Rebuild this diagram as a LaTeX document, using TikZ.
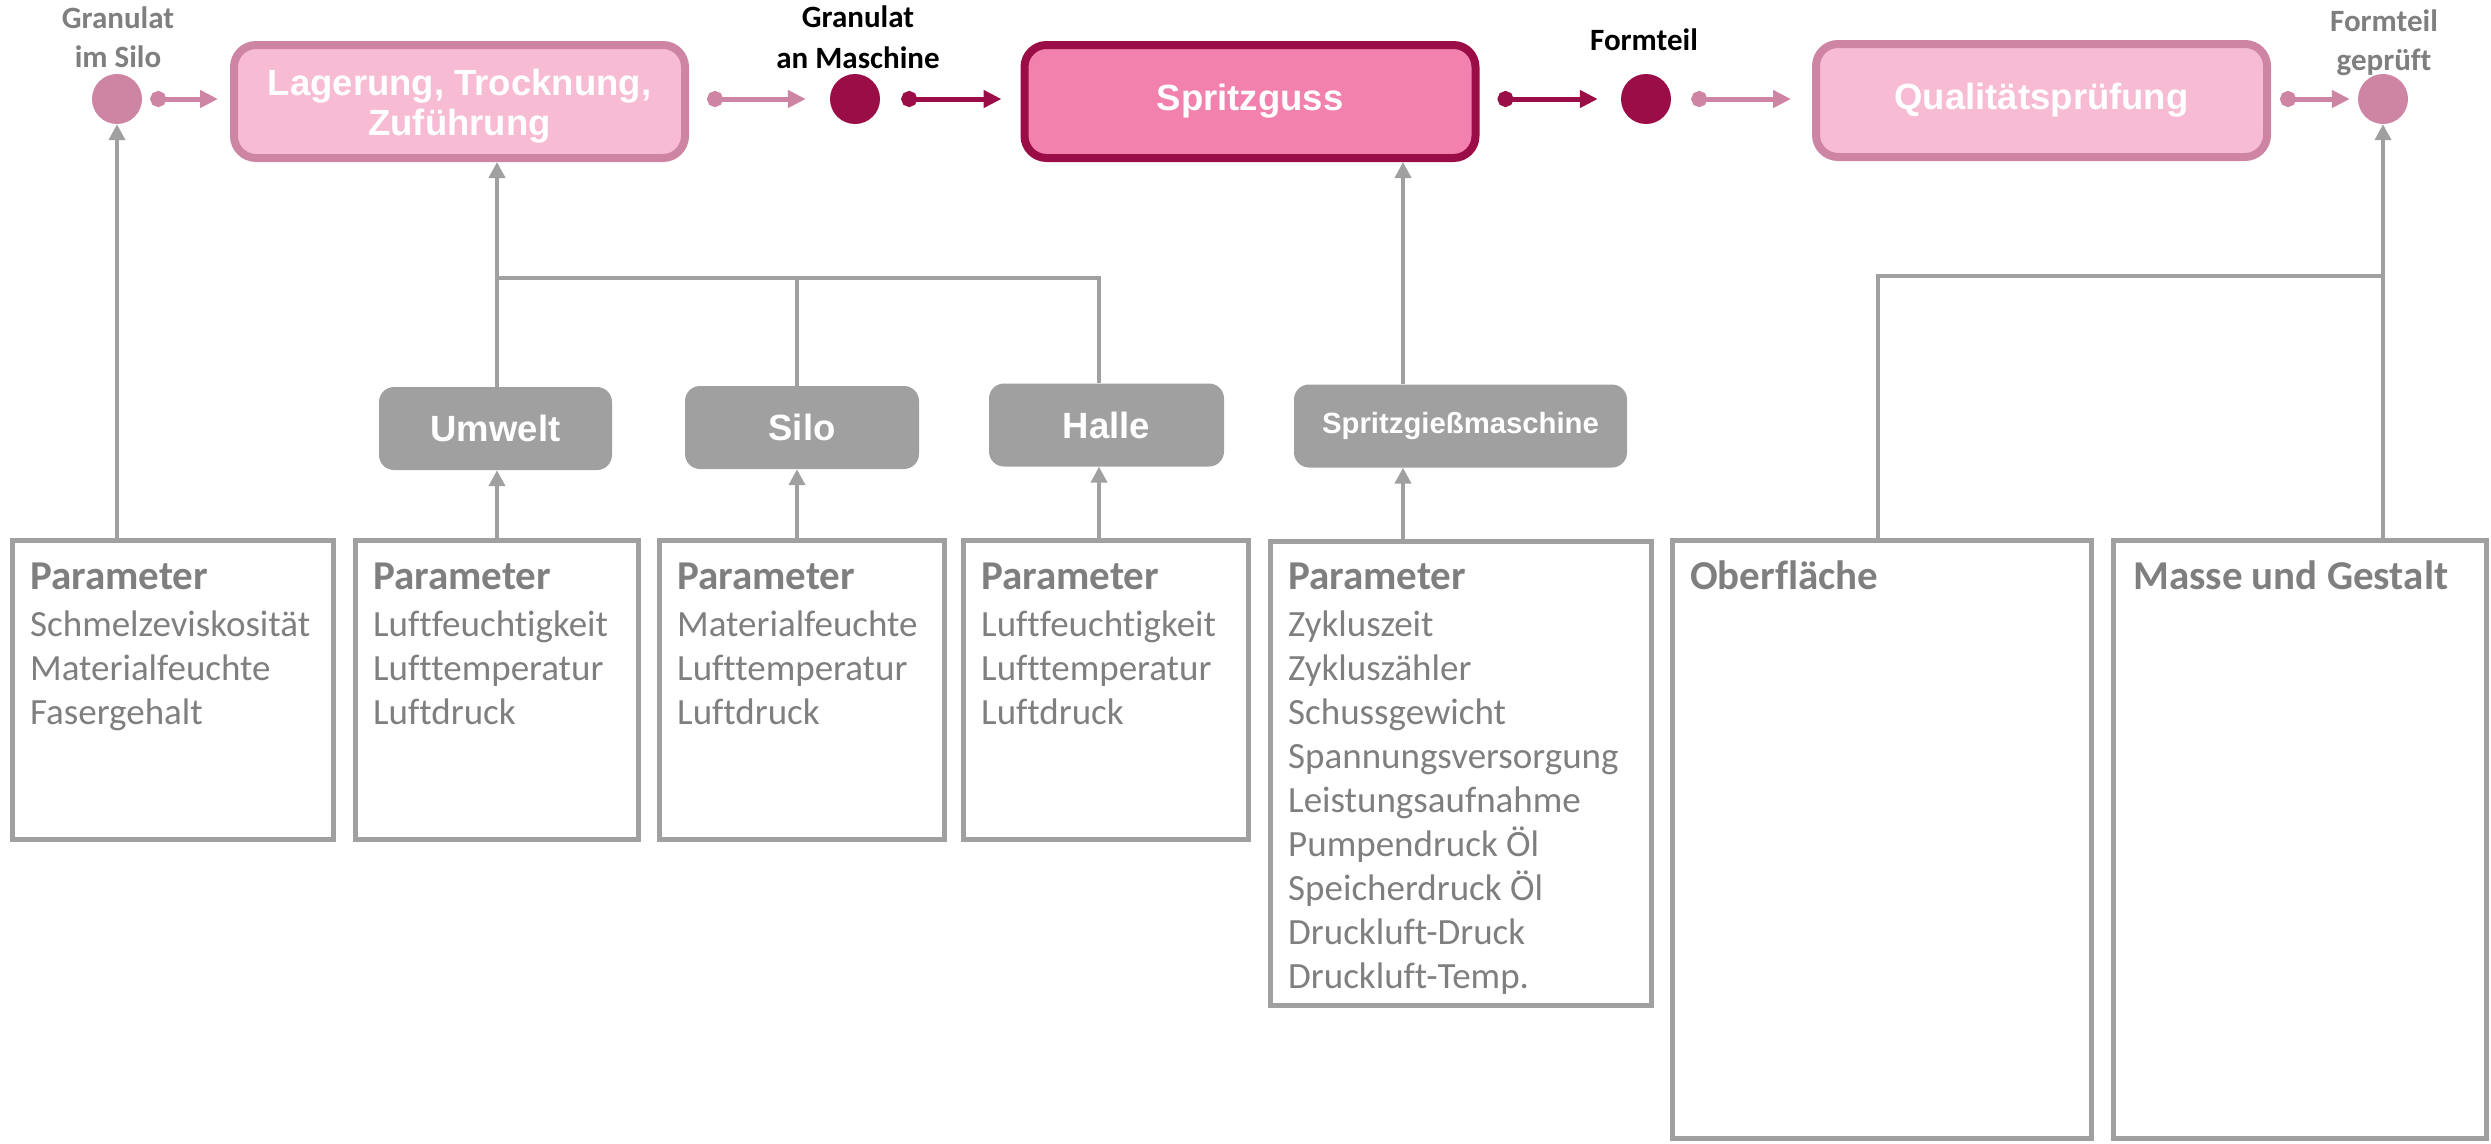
\documentclass[tikz,border=0pt]{standalone}
\usepackage{fontspec}
\setmainfont{Carlito}[Ligatures=CommonOff]
\newfontfamily\arialfont{Liberation Sans}
\usetikzlibrary{arrows.meta}
\definecolor{lpink}{HTML}{F7BBD4}
\definecolor{mpink}{HTML}{CE84A3}
\definecolor{hpink}{HTML}{F381AE}
\definecolor{dred}{HTML}{9B0D46}
\definecolor{lgray}{HTML}{A0A0A0}
\definecolor{tgray}{HTML}{7F7F7F}
\tikzset{
  procbox/.style={draw=mpink, fill=lpink, line width=8pt, rounded corners=22pt,
    minimum width=451pt, minimum height=113pt, inner sep=0pt, text=white,
    font=\arialfont\bfseries\fontsize{36.5}{40}\selectfont, align=center},
  mainbox/.style={procbox, draw=dred, fill=hpink},
  graybox/.style={fill=lgray, rounded corners=15pt, minimum height=83pt, inner sep=0pt,
    text=white, font=\arialfont\bfseries\fontsize{36.5}{40}\selectfont},
  parbox/.style={draw=lgray, line width=5pt, inner sep=0pt},
  ptext/.style={anchor=north west, inner sep=0pt, align=left, text=tgray,
    font=\fontsize{37}{44}\selectfont},
  stnode/.style={circle, fill=#1, minimum size=50pt, inner sep=0pt},
  toplab/.style={inner sep=0pt, align=center, font=\bfseries\fontsize{31}{39}\selectfont},
  gline/.style={draw=lgray, line width=4pt},
  garrow/.style={gline, -{Triangle[length=16pt,width=16pt]}},
  parrow/.style={color=#1, line width=5pt, {Circle[length=16pt]}-{Triangle[length=18pt,width=17pt]}},
}
\newcommand{\hdr}[1]{\rule{0pt}{30pt}{\fontsize{41}{44}\selectfont\bfseries #1}}
\begin{document}
\begin{tikzpicture}[x=1pt,y=-1pt]
\useasboundingbox (0,0) rectangle (2491,1143);
% process boxes
\node[procbox] (lag) at (459.5,101.5) {\rule{0pt}{36pt}Lagerung, Trocknung,\\Zuführung};
\node[mainbox] (spr) at (1250,101.5) {Spritzguss};
\node[procbox] (qual) at (2041.5,100.5) {Qualitätsprüfung};
% states
\node[stnode=mpink] (c1) at (117,99) {};
\node[stnode=dred] (c2) at (855,99) {};
\node[stnode=dred] (c3) at (1646,99) {};
\node[stnode=mpink] (c4) at (2383,99) {};
% state labels
\node[toplab, text=tgray, anchor=north] (l1) at (118,4) {\rule{0pt}{24pt}Granulat\\im Silo};
\node[toplab, text=black, anchor=north, font=\bfseries\fontsize{31}{41}\selectfont] (l2) at (858,3) {\rule{0pt}{24pt}Granulat\\an Maschine};
\node[toplab, text=black, anchor=base] (l3) at (1644,50) {Formteil};
\node[toplab, text=tgray, anchor=north] (l4) at (2384,7) {\rule{0pt}{24pt}Formteil\\geprüft};
% gray boxes
\node[graybox, minimum width=233pt] (umw) at (495.5,428.5) {Umwelt};
\node[graybox, minimum width=234pt] (silo) at (802,427.5) {Silo};
\node[graybox, minimum width=235pt] (halle) at (1106.5,425) {Halle};
\node[graybox, minimum width=333pt, font=\arialfont\bfseries\fontsize{29.3}{32}\selectfont] (sgm) at (1460.5,426) {Spritzgießmaschine};
% parameter boxes
\node[parbox, minimum width=321pt, minimum height=299pt] (p1) at (173,690) {};
\node[parbox, minimum width=283pt, minimum height=299pt] (p2) at (497,690) {};
\node[parbox, minimum width=285pt, minimum height=299pt] (p3) at (802,690) {};
\node[parbox, minimum width=285pt, minimum height=299pt] (p4) at (1106,690) {};
\node[parbox, minimum width=381pt, minimum height=464pt] (p5) at (1461,773.5) {};
\node[parbox, minimum width=419pt, minimum height=598pt] (p6) at (1882,839.5) {};
\node[parbox, minimum width=373pt, minimum height=598pt] (p7) at (2300,839.5) {};
% parameter texts
\node[ptext] (t1) at ([xshift=20pt,yshift=-21pt]p1.north west) {\hdr{Parameter}\\[3pt]Schmelzeviskosität\\Materialfeuchte\\Fasergehalt};
\node[ptext] (t2) at ([xshift=20pt,yshift=-21pt]p2.north west) {\hdr{Parameter}\\[3pt]Luftfeuchtigkeit\\Lufttemperatur\\Luftdruck};
\node[ptext] (t3) at ([xshift=20pt,yshift=-21pt]p3.north west) {\hdr{Parameter}\\[3pt]Materialfeuchte\\Lufttemperatur\\Luftdruck};
\node[ptext] (t4) at ([xshift=20pt,yshift=-21pt]p4.north west) {\hdr{Parameter}\\[3pt]Luftfeuchtigkeit\\Lufttemperatur\\Luftdruck};
\node[ptext] (t5) at ([xshift=20pt,yshift=-20pt]p5.north west) {\hdr{Parameter}\\[3pt]Zykluszeit\\Zykluszähler\\Schussgewicht\\Spannungsversorgung\\Leistungsaufnahme\\Pumpendruck Öl\\Speicherdruck Öl\\Druckluft-Druck\\Druckluft-Temp.};
\node[ptext] (t6) at ([xshift=20pt,yshift=-21pt]p6.north west) {\hdr{Oberfläche}};
\node[ptext] (t7) at ([xshift=22pt,yshift=-21pt]p7.north west) {\hdr{Masse und Gestalt}};
% helper coordinates
\coordinate (xu) at (497,0);
\coordinate (xs) at (797,0);
\coordinate (xh) at (1099,0);
\coordinate (xm) at (1403,0);
\coordinate (jl) at (497,278);
\coordinate (jr) at (1099,278);
\coordinate (oj) at (1878,276);
% gray connectors
\draw[garrow] (p1.north -| c1) -- (c1.south);
\draw[garrow] (p2.north -| xu) -- (umw.south -| xu);
\draw[garrow] (p3.north -| xs) -- (silo.south -| xs);
\draw[garrow] (p4.north -| xh) -- (halle.south -| xh);
\draw[garrow] (p5.north -| xm) -- (sgm.south -| xm);
\draw[garrow] (umw.north -| xu) -- (lag.south -| xu);
\draw[gline] (jl) -- (jr) -- (halle.north -| xh);
\draw[gline] (jl -| xs) -- (silo.north -| xs);
\draw[garrow] (sgm.north -| xm) -- (spr.south -| xm);
\draw[gline] (p6.north -| oj) -- (oj) -- (oj -| c4);
\draw[garrow] (p7.north -| c4) -- (c4.south);
% process flow arrows
\draw[parrow=mpink, shorten <=8pt, shorten >=12pt] (c1.east) -- (c1.east -| lag.west);
\draw[parrow=mpink, shorten <=18pt, shorten >=24pt] (c2.west -| lag.east) -- (c2.west);
\draw[parrow=dred, shorten <=21pt, shorten >=19pt] (c2.east) -- (c2.east -| spr.west);
\draw[parrow=dred, shorten <=18pt, shorten >=23pt] (c3.west -| spr.east) -- (c3.west);
\draw[parrow=mpink, shorten <=20pt, shorten >=21pt] (c3.east) -- (c3.east -| qual.west);
\draw[parrow=mpink, shorten <=9pt, shorten >=8pt] (c4.west -| qual.east) -- (c4.west);
\end{tikzpicture}
\end{document}
